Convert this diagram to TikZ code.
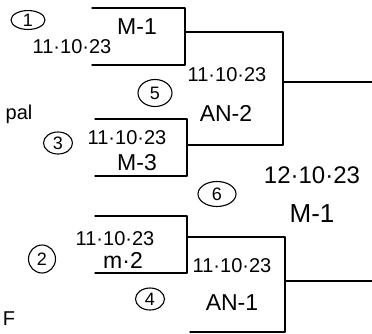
\documentclass[tikz,border=0pt]{standalone}
\usepackage{fontspec}
\setmainfont{Liberation Sans}
\usetikzlibrary{shapes.geometric}
\tikzset{
	bline/.style={line width=1.4pt, line cap=round, line join=round},
	rnd/.style={draw, ellipse, line width=1.1pt, inner sep=0.5pt, minimum width=29pt, minimum height=22pt, font=\fontsize{18}{18}\selectfont},
	date/.style={font=\fontsize{20}{20}\selectfont},
	match/.style={font=\fontsize{23}{23}\selectfont},
}
\begin{document}
\begin{tikzpicture}[x=1pt,y=-1pt]
		\useasboundingbox (0,0) rectangle (372,333);
		% first round corners
		\coordinate (m1a) at (92,8);
		\coordinate (m1b) at (185,8);
		\coordinate (m1c) at (185,65);
		\coordinate (m1d) at (92,65);
		\coordinate (m1o) at (185,32);
		\coordinate (m3a) at (95,119);
		\coordinate (m3b) at (187,119);
		\coordinate (m3c) at (187,176);
		\coordinate (m3d) at (95,176);
		\coordinate (m3o) at (187,145);
		\coordinate (m2a) at (95,216);
		\coordinate (m2b) at (187,216);
		\coordinate (m2c) at (187,273);
		\coordinate (m2d) at (95,273);
		\coordinate (m2o) at (187,237);
		% second round corners
		\coordinate (s1a) at (283,32);
		\coordinate (s1b) at (283,145);
		\coordinate (s1o) at (283,82);
		\coordinate (s1e) at (372,82);
		\coordinate (s2a) at (285,237);
		\coordinate (s2b) at (285,332);
		\coordinate (s2c) at (190,332);
		\coordinate (s2o) at (285,281);
		\coordinate (s2e) at (372,281);
		% brackets
		\draw[bline] (m1a) -- (m1b) -- (m1c) -- (m1d);
		\draw[bline] (m3a) -- (m3b) -- (m3c) -- (m3d);
		\draw[bline] (m2a) -- (m2b) -- (m2c) -- (m2d);
		\draw[bline] (m1o) -- (s1a) -- (s1b) -- (m3o);
		\draw[bline] (s1o) -- (s1e);
		\draw[bline] (m2o) -- (s2a) -- (s2b) -- (s2c);
		\draw[bline] (s2o) -- (s2e);
		% labels
		\node[rnd, minimum width=34pt, minimum height=18pt] (c1) at (28,20) {1};
		\node[date] (d1) at (72,47) {11·10·23};
		\node[match] (t1) at (137,27) {M-1};
		\node[font=\fontsize{20}{20}\selectfont] (pal) at (19,114) {pal};
		\node[rnd] (c3) at (58,143) {3};
		\node[date] (d3) at (127,138) {11·10·23};
		\node[match] (t3) at (137,163) {M-3};
		\node[rnd, minimum width=34pt, minimum height=27pt] (c5) at (155,93) {5};
		\node[date] (d5) at (227,75) {11·10·23};
		\node[match] (t5) at (226,113) {AN-2};
		\node[rnd, minimum width=38pt, minimum height=25pt] (c6) at (217,194) {6};
		\node[font=\fontsize{24}{24}\selectfont] (d6) at (312,175) {12·10·23};
		\node[font=\fontsize{26}{26}\selectfont] (t6) at (312,214) {M-1};
		\node[date] (d2) at (115,239) {11·10·23};
		\node[match] (t2) at (123,260) {m·2};
		\node[rnd, minimum width=27pt, minimum height=28pt] (c2) at (42,259) {2};
		\node[rnd] (c4) at (150,299) {4};
		\node[date] (d4) at (232,266) {11·10·23};
		\node[match] (t4) at (232,303) {AN-1};
		\node[font=\fontsize{20}{20}\selectfont] (f) at (9,319) {F};
	\end{tikzpicture}
\end{document}
